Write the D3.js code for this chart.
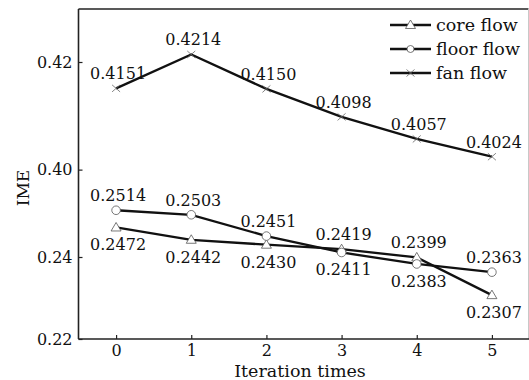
<!DOCTYPE html>
<html>
<head>
<meta charset="utf-8">
<script src="https://cdn.jsdelivr.net/npm/d3@7"></script>
<style>
  body { margin: 0; background: #fff; }
  svg text { font-family: "DejaVu Serif", "Liberation Serif", serif; fill: #111; }
</style>
</head>
<body>
<div class="chart"></div>
<script>
// data
var iterations = [0, 1, 2, 3, 4, 5];
var coreFlow = [0.2472, 0.2442, 0.2430, 0.2419, 0.2399, 0.2307];
var floorFlow = [0.2514, 0.2503, 0.2451, 0.2411, 0.2383, 0.2363];
var fanFlow = [0.4151, 0.4214, 0.4150, 0.4098, 0.4057, 0.4024];
var yTicks = [0.22, 0.24, 0.40, 0.42];
var seriesNames = ["core flow", "floor flow", "fan flow"];

// where each value label sits relative to its point
var coreSide = ["below", "below", "below", "above", "above", "below"];
var floorSide = ["above", "above", "above", "below", "below", "above"];
var fanSide = ["above", "above", "above", "above", "above", "above"];

var svgWidth = 529;
var svgHeight = 380;

var margin = { top: 9, bottom: 41, left: 78.5, right: 0 };

var svg = d3.select(".chart")
  .append("svg")
  .attr("width", svgWidth)
  .attr("height", svgHeight);

var xScale = d3.scaleLinear()
  .domain([-0.5, 5.5])
  .range([margin.left, 529.5]);

// broken y axis: lower band 0.22-0.26 and upper band 0.399-0.43 share the break at y=175
var yScale = d3.scaleLinear()
  .domain([0.22, 0.26, 0.399, 0.42])
  .range([339, 175, 175, 62]);

// frame
svg.append("line")
  .attr("x1", margin.left).attr("x2", 528.5)
  .attr("y1", margin.top).attr("y2", margin.top)
  .attr("stroke", "#222").attr("stroke-width", 1.6);
svg.append("line")
  .attr("x1", 528.5).attr("x2", 528.5)
  .attr("y1", margin.top).attr("y2", 339)
  .attr("stroke", "#c8c8c8").attr("stroke-width", 1);

// axes, ticks pointing inward
var xAxis = d3.axisBottom(xScale)
  .tickValues(iterations)
  .tickFormat(d3.format("d"))
  .tickSizeInner(-4)
  .tickSizeOuter(0)
  .tickPadding(6);

var yAxis = d3.axisLeft(yScale)
  .tickValues(yTicks)
  .tickFormat(d3.format(".2f"))
  .tickSizeInner(-4)
  .tickSizeOuter(0)
  .tickPadding(6);

var xg = svg.append("g")
  .attr("transform", "translate(0," + 339 + ")")
  .call(xAxis);

var yg = svg.append("g")
  .attr("transform", "translate(" + margin.left + ",0)")
  .call(yAxis);

[xg, yg].forEach(function(g) {
  g.select(".domain").attr("stroke", "#222").attr("stroke-width", 1.6);
  g.selectAll(".tick line").attr("stroke", "#222").attr("stroke-width", 1.2);
  g.selectAll(".tick text")
    .attr("font-size", "16px")
    .attr("font-family", "DejaVu Serif, serif")
    .attr("fill", "#111");
});
yg.select(".domain").attr("d", "M0," + margin.top + "V339");
xg.select(".domain").attr("d", "M" + margin.left + ",0H529");

// axis titles
svg.append("text")
  .attr("x", 300)
  .attr("y", 377)
  .attr("text-anchor", "middle")
  .attr("font-size", "17.5px")
  .text("Iteration times");

svg.append("text")
  .attr("transform", "translate(29,188) rotate(-90)")
  .attr("text-anchor", "middle")
  .attr("font-size", "17px")
  .text("IME");

// series
var series = [
  { name: seriesNames[0], values: coreFlow, sides: coreSide, marker: "triangle" },
  { name: seriesNames[1], values: floorFlow, sides: floorSide, marker: "circle" },
  { name: seriesNames[2], values: fanFlow, sides: fanSide, marker: "cross" }
];

var line = d3.line()
  .x(function(d, i) { return xScale(iterations[i]); })
  .y(function(d) { return yScale(d); });

function drawMarker(g, type, x, y) {
  if (type === "triangle") {
    g.append("path")
      .attr("d", "M" + x + "," + (y - 5) + "L" + (x + 5) + "," + (y + 3.5) + "L" + (x - 5) + "," + (y + 3.5) + "Z")
      .attr("fill", "#fff").attr("stroke", "#555").attr("stroke-width", 0.8);
  } else if (type === "circle") {
    g.append("circle")
      .attr("cx", x).attr("cy", y).attr("r", 4.3)
      .attr("fill", "#fff").attr("stroke", "#555").attr("stroke-width", 0.8);
  } else {
    g.append("path")
      .attr("d", "M" + (x - 4) + "," + (y - 3.5) + "L" + (x + 4) + "," + (y + 3.5) +
                 "M" + (x - 4) + "," + (y + 3.5) + "L" + (x + 4) + "," + (y - 3.5))
      .attr("fill", "none").attr("stroke", "#666").attr("stroke-width", 0.8);
  }
}

var plot = svg.append("g");

series.forEach(function(s) {
  plot.append("path")
    .datum(s.values)
    .attr("d", line)
    .attr("fill", "none")
    .attr("stroke", "#111")
    .attr("stroke-width", 2.3);
});

series.forEach(function(s) {
  s.values.forEach(function(v, i) {
    drawMarker(plot, s.marker, xScale(iterations[i]), yScale(v));
  });
});

// value labels
series.forEach(function(s) {
  plot.selectAll(null)
    .data(s.values)
    .enter()
    .append("text")
    .attr("x", function(d, i) { return xScale(iterations[i]) + 2; })
    .attr("y", function(d, i) {
      return yScale(d) + (s.sides[i] === "above" ? -9 : 23);
    })
    .attr("text-anchor", "middle")
    .attr("font-size", "16px")
    .text(function(d) { return d3.format(".4f")(d); });
});

// legend
var legend = svg.append("g");
series.forEach(function(s, i) {
  var ly = 25 + i * 24;
  legend.append("line")
    .attr("x1", 390).attr("x2", 431)
    .attr("y1", ly).attr("y2", ly)
    .attr("stroke", "#111").attr("stroke-width", 2.3);
  if (s.marker === "circle") {
    legend.append("circle")
      .attr("cx", 410.5).attr("cy", ly).attr("r", 3.5)
      .attr("fill", "#fff").attr("stroke", "#555").attr("stroke-width", 0.8);
  } else {
    drawMarker(legend, s.marker, 410.5, ly);
  }
  legend.append("text")
    .attr("x", 436)
    .attr("y", ly + 6)
    .attr("font-size", "17.5px")
    .text(s.name);
});
</script>
</body>
</html>
